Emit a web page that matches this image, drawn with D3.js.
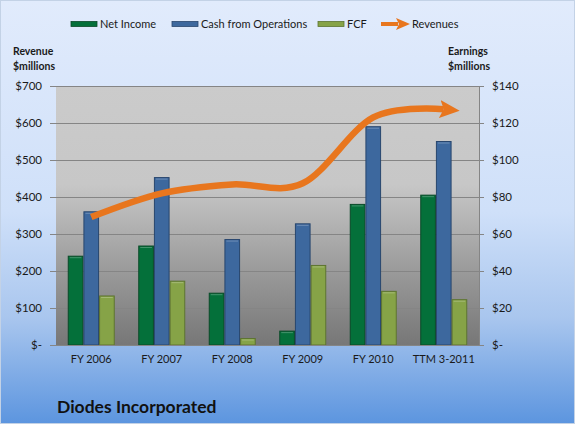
<!DOCTYPE html>
<html><head><meta charset="utf-8">
<script src="https://cdn.jsdelivr.net/npm/d3@7"></script>
<style>body{margin:0;background:#fff}svg{display:block;font-family:Lato,"Open Sans",sans-serif}</style>
</head><body><svg id="c" width="577" height="427"></svg>
<script>
const categories = ["FY 2006","FY 2007","FY 2008","FY 2009","FY 2010","TTM 3-2011"];
const netIncome = [48, 53.5, 28, 7.5, 76, 81];
const cashFromOps = [72, 90.5, 57, 65.5, 118, 110];
const fcf = [26.5, 34.5, 3.5, 43, 29, 24.5];
const revenues = [346, 410, 434, 437, 615, 637];
const leftTicks = [0,100,200,300,400,500,600,700];
const rightTicks = [0,20,40,60,80,100,120,140];
const seriesNames = ["Net Income","Cash from Operations","FCF"];
const seriesColors = ["#04703a","#3d689e","#86a347"];
const seriesStroke = ["#0a4a28","#28466e","#5d7430"];

const svg = d3.select("#c");
const defs = svg.append("defs");
const bg = defs.append("linearGradient").attr("id","bg").attr("x1",0).attr("y1",0).attr("x2",0).attr("y2",1);
bg.append("stop").attr("offset",0).attr("stop-color","#e1ebfc");
bg.append("stop").attr("offset",0.5).attr("stop-color","#cfe0f9");
bg.append("stop").attr("offset",0.75).attr("stop-color","#a9c6ee");
bg.append("stop").attr("offset",1).attr("stop-color","#5c95df");
const pg = defs.append("linearGradient").attr("id","pg").attr("x1",0).attr("y1",0).attr("x2",0).attr("y2",1);
pg.append("stop").attr("offset",0).attr("stop-color","#cbcbcb");
pg.append("stop").attr("offset",0.38).attr("stop-color","#c7c7c7");
pg.append("stop").attr("offset",0.7).attr("stop-color","#9c9c9c");
pg.append("stop").attr("offset",1).attr("stop-color","#777777");

svg.append("rect").attr("x",0.5).attr("y",0.5).attr("width",574).attr("height",423)
  .attr("fill","url(#bg)").attr("stroke","#c3d2e6");

const L=56, R=479, T=86, B=345;
const x0 = d3.scaleBand().domain(categories).range([L,R]).paddingInner(1/3).paddingOuter(1/6);
const x1 = d3.scaleBand().domain(seriesNames).range([0,x0.bandwidth()]);
const xc = d3.scaleBand().domain(categories).range([L,R]);
const yL = d3.scaleLinear().domain([0,700]).range([B,T]);
const yR = d3.scaleLinear().domain([0,140]).range([B,T]);

svg.append("rect").attr("x",L).attr("y",T).attr("width",R-L).attr("height",B-T).attr("fill","url(#pg)");

// gridlines + left axis
const gl = svg.append("g").attr("transform",`translate(${L},0)`)
  .call(d3.axisLeft(yL).tickValues(leftTicks).tickSize(-(R-L)).tickFormat(""));
gl.select(".domain").remove();
gl.selectAll("line").attr("stroke","#858585");
gl.selectAll(".tick").append("line").attr("x1",-6).attr("x2",0).attr("stroke","#858585");
const la = svg.append("g").attr("transform",`translate(${L},0)`)
  .call(d3.axisLeft(yL).tickValues(leftTicks).tickSize(0).tickPadding(14).tickFormat(d=>d===0?"$-":"$"+d));
la.select(".domain").remove();
la.selectAll("text").attr("font-size",11.5).attr("fill","#1a1a1a").attr("font-family","Lato");

const ra = svg.append("g").attr("transform",`translate(${R},0)`)
  .call(d3.axisRight(yR).tickValues(rightTicks).tickSize(5).tickPadding(8).tickFormat(d=>d===0?"$-":"$"+d));
ra.select(".domain").attr("stroke","#858585");
ra.selectAll("line").attr("stroke","#858585");
ra.selectAll("text").attr("font-size",11.5).attr("fill","#1a1a1a").attr("font-family","Lato");

// bars
const series = [netIncome, cashFromOps, fcf];
series.forEach((vals,si)=>{
  svg.append("g").selectAll("rect").data(vals).join("rect")
    .attr("x",(d,i)=>x0(categories[i])+x1(seriesNames[si])+0.5)
    .attr("y",d=>yR(d))
    .attr("width",x1.bandwidth()-1)
    .attr("height",d=>B-yR(d))
    .attr("fill",seriesColors[si])
    .attr("stroke",seriesStroke[si]).attr("stroke-width",1);
  svg.append("g").selectAll("line").data(vals).join("line")
    .attr("x1",(d,i)=>x0(categories[i])+x1(seriesNames[si])+2)
    .attr("x2",(d,i)=>x0(categories[i])+x1(seriesNames[si])+x1.bandwidth()-2)
    .attr("y1",d=>yR(d)+1.5).attr("y2",d=>yR(d)+1.5)
    .attr("stroke","#ffffff").attr("stroke-opacity",0.25);
});

// bottom axis
const ba = svg.append("g").attr("transform",`translate(0,${B})`)
  .call(d3.axisBottom(xc).tickSize(0).tickPadding(10));
ba.select(".domain").attr("stroke","#858585");
ba.selectAll("text").attr("font-size",11).attr("fill","#1a1a1a").attr("font-family","Lato");

// revenue line
defs.append("marker").attr("id","arr").attr("markerUnits","userSpaceOnUse")
  .attr("viewBox","0 0 20 20").attr("refX",4).attr("refY",10)
  .attr("markerWidth",20).attr("markerHeight",20).attr("orient","auto")
  .append("path").attr("d","M0,1 L20,10 L0,19 L4,10 Z").attr("fill","#e8761e");
const line = d3.line().x((d,i)=>xc(categories[i])+xc.bandwidth()/2).y(d=>yL(d)).curve(d3.curveCatmullRom.alpha(0));
svg.append("path").attr("d",line(revenues)).attr("fill","none").attr("stroke","#e8761e")
  .attr("stroke-width",6.5).attr("marker-end","url(#arr)");

// legend
const lg = svg.append("g").attr("font-size",11).attr("fill","#1a1a1a");
const legX = [71,172,318];
seriesNames.forEach((n,i)=>{
  lg.append("rect").attr("x",legX[i]).attr("y",21.5).attr("width",26).attr("height",5)
    .attr("fill",seriesColors[i]).attr("stroke",seriesStroke[i]).attr("stroke-width",0.8);
  lg.append("text").attr("x",legX[i]+29).attr("y",28).text(n);
});
lg.append("line").attr("x1",381).attr("x2",398).attr("y1",24).attr("y2",24)
  .attr("stroke","#e8761e").attr("stroke-width",4);
lg.append("path").attr("d","M396,18 L410,24 L396,30 L399,24 Z").attr("fill","#e8761e");
lg.append("text").attr("x",412).attr("y",28).text("Revenues");

// axis titles
const at = svg.append("g").attr("font-size",10.5).attr("font-weight","bold").attr("fill","#1a1a1a");
at.append("text").attr("x",13).attr("y",55).text("Revenue");
at.append("text").attr("x",13).attr("y",69.5).text("$millions");
at.append("text").attr("x",448).attr("y",55).text("Earnings");
at.append("text").attr("x",448).attr("y",69.5).text("$millions");

svg.append("text").attr("x",57).attr("y",413).attr("font-size",17.5).attr("font-weight","bold")
  .attr("fill","#111").text("Diodes Incorporated");
</script></body></html>
